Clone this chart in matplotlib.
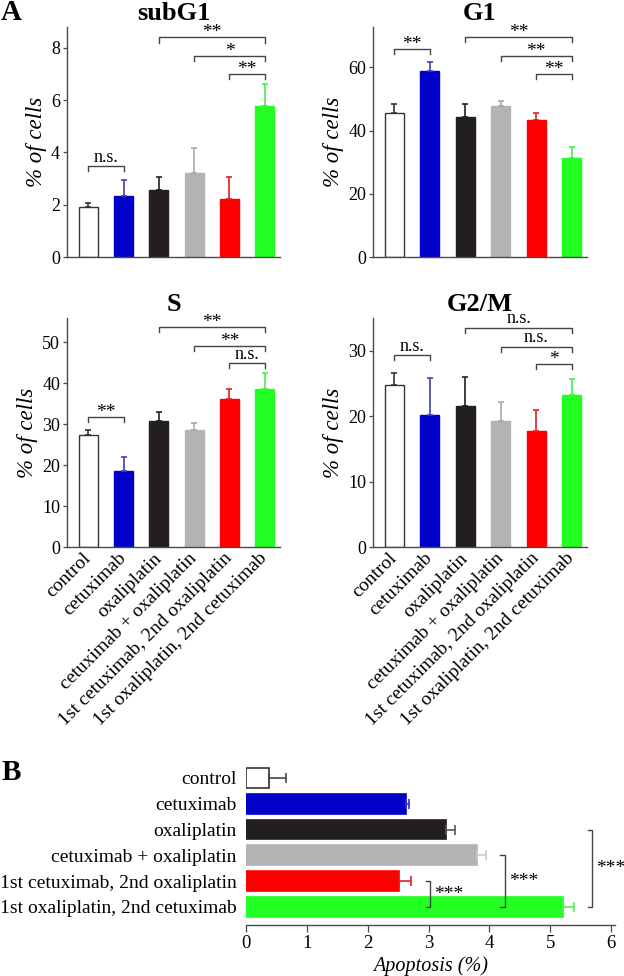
import matplotlib
matplotlib.use("Agg")
import matplotlib.pyplot as plt
import numpy as np

plt.rcParams['font.family'] = ['Liberation Serif', 'DejaVu Serif']

categories = ["control", "cetuximab", "oxaliplatin", "cetuximab + oxaliplatin",
              "1st cetuximab, 2nd oxaliplatin", "1st oxaliplatin, 2nd cetuximab"]
bar_colors = ["#ffffff", "#0000c8", "#231f20", "#b3b3b3", "#ff0000", "#22ff22"]
err_colors = ["#333333", "#4040b0", "#231f20", "#a8a8a8", "#e02020", "#44ee44"]

# Panel A data (mean, upper error)
subg1_mean = [1.91, 2.34, 2.57, 3.20, 2.23, 5.76]
subg1_err = [0.18, 0.62, 0.51, 0.97, 0.83, 0.85]
g1_mean = [45.7, 58.8, 44.2, 47.9, 43.2, 31.5]
g1_err = [2.8, 2.9, 4.3, 1.3, 2.2, 3.4]
s_mean = [27.4, 18.5, 30.9, 28.7, 36.1, 38.7]
s_err = [1.1, 3.5, 2.2, 1.7, 2.6, 3.9]
g2m_mean = [24.8, 20.1, 21.6, 19.3, 17.8, 23.2]
g2m_err = [1.8, 5.7, 4.4, 2.8, 3.2, 2.5]

# significance brackets: (bar i, bar j, height, label)
subg1_sig = [(0, 1, 3.49, "n.s."), (2, 5, 8.39, "**"), (3, 5, 7.69, "*"), (4, 5, 7.0, "**")]
g1_sig = [(0, 1, 65.7, "**"), (2, 5, 69.5, "**"), (3, 5, 63.6, "**"), (4, 5, 57.9, "**")]
s_sig = [(0, 1, 31.9, "**"), (2, 5, 53.8, "**"), (3, 5, 49.2, "**"), (4, 5, 45.0, "n.s.")]
g2m_sig = [(0, 1, 29.3, "n.s."), (2, 5, 33.5, "n.s."), (3, 5, 30.6, "n.s."), (4, 5, 27.9, "*")]

subg1_ticks = [0, 2, 4, 6, 8]
g1_ticks = [0, 20, 40, 60]
s_ticks = [0, 10, 20, 30, 40, 50]
g2m_ticks = [0, 10, 20, 30]

# Panel B data
apop_mean = [0.38, 2.63, 3.29, 3.79, 2.51, 5.21]
apop_err = [0.28, 0.05, 0.15, 0.16, 0.21, 0.18]
apop_err_colors = ["#444444", "#3030c0", "#555555", "#cccccc", "#e02020", "#55ee55"]
apop_sig = [(4, 5, 3.03, "***"), (3, 5, 4.25, "***"), (2, 5, 5.69, "***")]
apop_ticks = [0, 1, 2, 3, 4, 5, 6]

W, H = 624, 976
fig = plt.figure(figsize=(W / 100, H / 100), dpi=100)

spine_col = "#4a4a4a"


def panel_a(rect, title, mean, err, ymax, ticks, sig, show_x):
    ax = fig.add_axes(rect)
    x = np.arange(len(mean))
    for i in range(len(mean)):
        ax.bar(x[i], mean[i], width=0.53, color=bar_colors[i],
               edgecolor=("#333333" if i == 0 else bar_colors[i]), linewidth=1.0, zorder=2)
        ax.errorbar(x[i], mean[i], yerr=[[0], [err[i]]], fmt='none',
                    ecolor=err_colors[i], elinewidth=1.2, capsize=2.2, capthick=1.2, zorder=3)
    ax.set_xlim(-0.6, 5.43)
    ax.set_ylim(0, ymax)
    ax.set_yticks(ticks)
    ax.tick_params(axis='y', labelsize=13, length=3, width=0.9, color=spine_col, pad=2)
    ax.tick_params(axis='x', length=0, pad=6)
    ax.set_xticks(x)
    if show_x:
        ax.set_xticklabels(categories, rotation=45, ha='right', va='center',
                           rotation_mode='anchor', fontsize=14)
    else:
        ax.set_xticklabels([])
    for s in ['top', 'right']:
        ax.spines[s].set_visible(False)
    for s in ['left', 'bottom']:
        ax.spines[s].set_color(spine_col)
        ax.spines[s].set_linewidth(1.0)
    ax.set_ylabel("% of cells", fontsize=16.5, style='italic', labelpad=3)
    ax.set_title(title, fontsize=19, fontweight='bold', pad=5)
    d = 0.022 * ymax
    for (i, j, y, lab) in sig:
        ax.plot([i, i, j, j], [y - d, y, y, y - d], color="#444444", lw=1.0,
                clip_on=False, zorder=4)
        off = 3.0 if lab == "n.s." else 0.0
        fs = 13 if lab == "n.s." else 14
        ax.annotate(lab, xy=((i + j) / 2, y), xytext=(0, off), textcoords='offset points',
                    ha='center', va='baseline', fontsize=fs, annotation_clip=False)
    return ax


panel_a([67 / W, 1 - 257.3 / H, 213 / W, 230.6 / H], "subG1", subg1_mean, subg1_err,
        8.8, subg1_ticks, subg1_sig, False)
panel_a([373 / W, 1 - 257.3 / H, 214 / W, 230.6 / H], "G1", g1_mean, g1_err,
        72.8, g1_ticks, g1_sig, False)
panel_a([67 / W, 1 - 547.3 / H, 213 / W, 229.6 / H], "S", s_mean, s_err,
        56.0, s_ticks, s_sig, True)
panel_a([373 / W, 1 - 547.3 / H, 214 / W, 229.6 / H], "G2/M", g2m_mean, g2m_err,
        35.0, g2m_ticks, g2m_sig, True)

# Panel B
axb = fig.add_axes([246 / W, 1 - 925 / H, 368.7 / W, 160 / H])
yb = np.arange(len(apop_mean))
for i in range(len(apop_mean)):
    axb.barh(yb[i], apop_mean[i], height=0.77, color=bar_colors[i],
             edgecolor=("#333333" if i == 0 else bar_colors[i]), linewidth=1.2, zorder=2)
    axb.errorbar(apop_mean[i], yb[i], xerr=[[0], [apop_err[i]]], fmt='none',
                 ecolor=apop_err_colors[i], elinewidth=1.2, capsize=3.5, capthick=1.2, zorder=3)
axb.set_ylim(5.7, -0.5)
axb.set_xlim(0, 6.06)
axb.set_xticks(apop_ticks)
axb.set_yticks(yb)
axb.set_yticklabels(categories, fontsize=14)
axb.tick_params(axis='y', length=0, pad=7)
axb.tick_params(axis='x', labelsize=13.5, length=5, width=0.9, color=spine_col, pad=2)
for s in ['top', 'right', 'left']:
    axb.spines[s].set_visible(False)
axb.spines['bottom'].set_color(spine_col)
axb.spines['bottom'].set_linewidth(1.0)
axb.set_xlabel("Apoptosis (%)", fontsize=14.5, style='italic', labelpad=3)
for (i, j, xv, lab) in apop_sig:
    dx = 0.07
    axb.plot([xv - dx, xv, xv, xv - dx], [i, i, j, j], color="#444444", lw=1.0,
             clip_on=False, zorder=4)
    axb.annotate(lab, xy=(xv, (i + j) / 2), xytext=(3, 0), textcoords='offset points',
                 ha='left', va='center', fontsize=14, annotation_clip=False)

fig.text(11 / W, 1 - 13 / H, "A", fontsize=21, fontweight='bold', ha='center', va='center')
fig.text(11 / W, 1 - 773 / H, "B", fontsize=21, fontweight='bold', ha='center', va='center')

fig.savefig("out.png", dpi=100)
